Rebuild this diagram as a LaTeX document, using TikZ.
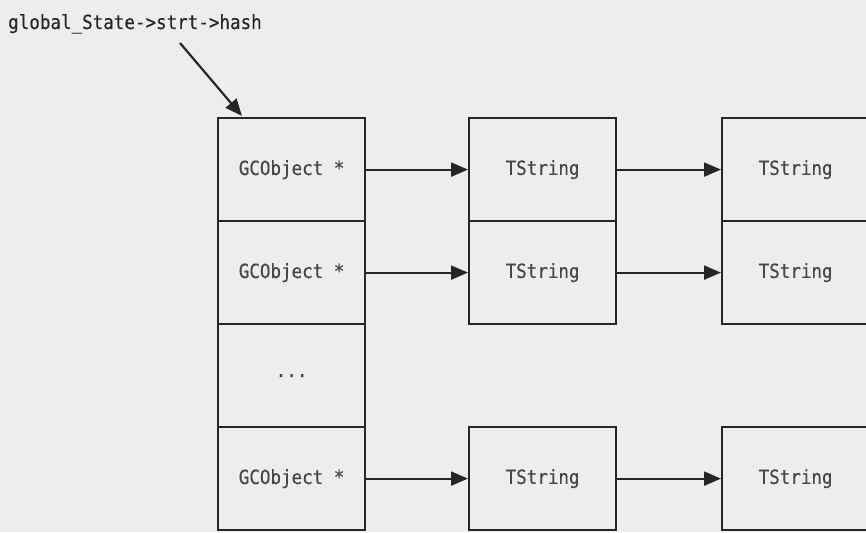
\documentclass[tikz,border=0pt]{standalone}
\usepackage{fontspec}
\setmonofont[FakeStretch=0.9,FakeBold=0.4]{DejaVu Sans Mono}
\usetikzlibrary{arrows.meta}
\definecolor{paper}{HTML}{EDEDED}
\definecolor{ink}{HTML}{262626}
\tikzset{
  cell/.style={draw=ink, line width=2.2pt, minimum width=147pt, minimum height=103pt,
    inner sep=0pt, anchor=north west, font=\ttfamily\fontsize{19.5}{21}\selectfont, text=ink!85},
  link/.style={draw=ink, line width=2.2pt, -{Triangle[length=17pt,width=14pt]}},
}
\begin{document}
\begin{tikzpicture}[x=1pt,y=-1pt]
\fill[paper] (0,0) rectangle (866,532);
\useasboundingbox (0,0) rectangle (866,532);
\node[anchor=base west, font=\ttfamily\fontsize{19.5}{21}\selectfont, text=ink, inner sep=0pt] (lbl) at (8,29) {global\_State->strt->hash};
% left column
\node[cell] (g1) at (217,117) {GCObject *};
\node[cell] (g2) at (217,220) {GCObject *};
\node[cell] (g3) at (217,323) {...};
\node[cell] (g4) at (217,426) {GCObject *};
% middle column
\node[cell] (a1) at (468,117) {TString};
\node[cell] (a2) at (468,220) {TString};
\node[cell] (a4) at (468,426) {TString};
% right column
\node[cell] (b1) at (721,117) {TString};
\node[cell] (b2) at (721,220) {TString};
\node[cell] (b4) at (721,426) {TString};
\coordinate (start) at (180,43);
\coordinate (tip) at (242,116);
\draw[link] (start) -- (tip);
\draw[link] (g1.east) -- (a1.west);
\draw[link] (g2.east) -- (a2.west);
\draw[link] (g4.east) -- (a4.west);
\draw[link] (a1.east) -- (b1.west);
\draw[link] (a2.east) -- (b2.west);
\draw[link] (a4.east) -- (b4.west);
\end{tikzpicture}
\end{document}
